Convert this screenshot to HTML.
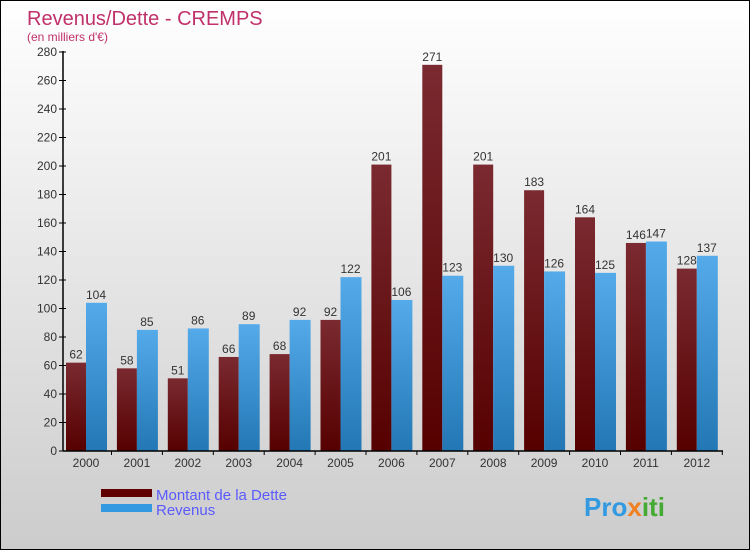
<!DOCTYPE html>
<html><head><meta charset="utf-8"><style>
body{margin:0}
#c{width:750px;height:550px;position:relative;box-sizing:border-box;border:1px solid #000;background:linear-gradient(#fff,#ccc);font-family:"Liberation Sans",sans-serif;overflow:hidden}
</style></head><body>
<div id="c">
<svg id="s" width="750" height="550" style="position:absolute;left:0;top:0">
<defs>
<linearGradient id="gd" x1="0" y1="0" x2="0" y2="1"><stop offset="0" stop-color="#7a2a30"/><stop offset="1" stop-color="#560000"/></linearGradient>
<linearGradient id="gr" x1="0" y1="0" x2="0" y2="1"><stop offset="0" stop-color="#55aaea"/><stop offset="1" stop-color="#2277b4"/></linearGradient>
</defs>
<text x="26" y="24" font-size="20" fill="#c0306a">Revenus/Dette - CREMPS</text>
<text x="26" y="40" font-size="12" fill="#c0306a">(en milliers d'€)</text>
<g id="bars"></g>
<g id="axes"></g>
<rect x="100" y="488" width="51" height="8" fill="#600000"/>
<rect x="100" y="503" width="51" height="8" fill="#3399e0"/>
<text x="155" y="499" font-size="15" fill="#5a5aff">Montant de la Dette</text>
<text x="155" y="514" font-size="15" fill="#5a5aff">Revenus</text>
<text x="583" y="515" font-size="26" font-weight="bold" fill="#3399e0">Pro<tspan fill="#f08020">x</tspan><tspan fill="#44aa33">iti</tspan></text>
</svg>
</div>
<script>
const years=["2000","2001","2002","2003","2004","2005","2006","2007","2008","2009","2010","2011","2012"];
const dette=[62,58,51,66,68,92,201,271,201,183,164,146,128];
const revenus=[104,85,86,89,92,122,106,123,130,126,125,147,137];
const ticks=[0,20,40,60,80,100,120,140,160,180,200,220,240,260,280];
const NS="http://www.w3.org/2000/svg";
const y=v=>450-v*399/280;
const xc=i=>85+i*50.9;
function mk(t,a,p){const e=document.createElementNS(NS,t);for(const k in a)e.setAttribute(k,a[k]);p.appendChild(e);return e;}
const B=document.getElementById('bars'),A=document.getElementById('axes');
years.forEach((yr,i)=>{
 let r=mk('rect',{x:xc(i)-20,y:y(dette[i]),width:20,height:450-y(dette[i]),fill:'url(#gd)'},B);
 
 
 let r2=mk('rect',{x:xc(i),y:y(revenus[i]),width:21,height:450-y(revenus[i]),fill:'url(#gr)'},B);
 
 
 let t=mk('text',{x:xc(i)-10,y:y(dette[i])-4,'font-size':12,fill:'#333','text-anchor':'middle'},B);t.textContent=dette[i];
 
 
 let t2=mk('text',{x:xc(i)+10,y:y(revenus[i])-4,'font-size':12,fill:'#333','text-anchor':'middle'},B);t2.textContent=revenus[i];
 
 
 let xl=mk('text',{x:xc(i),y:466,'font-size':12,fill:'#333','text-anchor':'middle'},A);xl.textContent=yr;
 
 
 mk('line',{x1:xc(i)+25.5,x2:xc(i)+25.5,y1:450,y2:454,stroke:'#000'},A);
});
mk('line',{x1:62,x2:62,y1:50,y2:450,stroke:'#000','stroke-width':1.5},A);
mk('line',{x1:62,x2:722,y1:450,y2:450,stroke:'#000','stroke-width':1.5},A);
ticks.forEach(v=>{
 mk('line',{x1:58,x2:65,y1:y(v),y2:y(v),stroke:'#000'},A);
 let t=mk('text',{x:56,y:y(v)+4,'font-size':12,fill:'#333','text-anchor':'end'},A);t.textContent=v;
 
 
});
</script>
</body></html>
